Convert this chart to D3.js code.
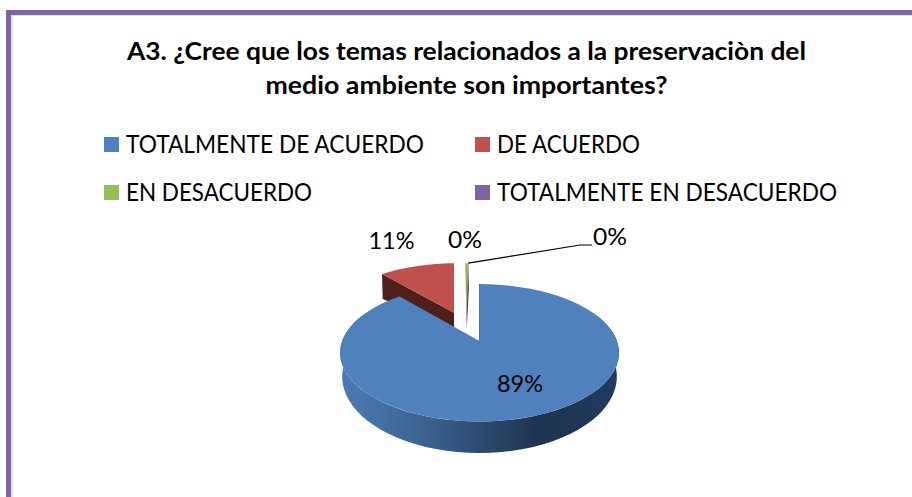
<!DOCTYPE html>
<html><head><meta charset="utf-8">
<script src="https://cdn.jsdelivr.net/npm/d3@7/dist/d3.min.js"></script>
<style>html,body{margin:0;padding:0;background:#fff;overflow:hidden}svg{display:block}text{font-family:Lato,"Open Sans",sans-serif;fill:#000}</style>
</head><body><svg id="c" width="912" height="497"></svg>
<script>
const titleLines = ["A3. ¿Cree que los temas relacionados a la preservaciòn del","medio ambiente son importantes?"];
const categories = ["TOTALMENTE DE ACUERDO","DE ACUERDO","EN DESACUERDO","TOTALMENTE EN DESACUERDO"];
const values = [88.6, 10.9, 0.45, 0.05];
const colors = ["#4f81bd","#c0504d","#9bbb59","#8064a2"];
const sideColors = ["#1f3552","#4f1f1c","#4f6122","#3f3151"];

(function(){
const svg = d3.select("#c");
// frame
svg.append("path").attr("d","M12 497V15H912").attr("fill","none").attr("stroke","#ccc1da").attr("stroke-width",1);
svg.append("path").attr("d","M8.5 497V12.5H912").attr("fill","none").attr("stroke","#8064a2").attr("stroke-width",5);
// title
const title = svg.append("g");
titleLines.forEach((t,i)=>title.append("text").attr("x",466.5).attr("y",60+i*34).attr("text-anchor","middle")
  .attr("font-size",24.5).attr("font-weight",700).attr("textLength",i?402:679).attr("lengthAdjust","spacingAndGlyphs").text(t));
// legend
const lgX = [104,475], lgY=[137,185], lgW=[298,143,186,340];
categories.forEach((c,i)=>{
  const x=lgX[i%2], y=lgY[i>>1];
  svg.append("rect").attr("x",x).attr("y",y).attr("width",15).attr("height",15).attr("fill",colors[i]);
  svg.append("text").attr("x",x+22).attr("y",y+15.5).attr("font-size",24.5).attr("textLength",lgW[i]).attr("lengthAdjust","spacingAndGlyphs").text(c);
});
// perspective pie
const cx=479.5, R=137.4, k=-0.171;
const yT=d3.scaleLinear().domain([0,1]).range([341,407.7]);
const yB=d3.scaleLinear().domain([0,1]).range([363.4,437.7]);
const proj=(u,v,ys,sc=1)=>{const w=1+k*v;return [cx+R*sc*u/w, ys(v/w)];};
const pie=d3.pie().sort(null).value(d=>d)(values);
const pt=(a,off)=>[Math.sin(a)+off[0],-Math.cos(a)+off[1]];
const offs=[[0,0],[-0.2,-0.457],[-0.1,-0.457],[-0.1,-0.457]];
const lineGen=d3.line();
const arcPts=(a0,a1,off,ys,sc)=>d3.range(0,61).map(i=>{const a=a0+(a1-a0)*i/60;const p=pt(a,off);return proj(p[0],p[1],ys,sc);});
const defs=svg.append("defs");
const g=defs.append("linearGradient").attr("id","bs").attr("gradientUnits","userSpaceOnUse").attr("x1",343).attr("x2",619).attr("y1",0).attr("y2",0);
[[0,"#4c7bb2"],[.3,"#3b628f"],[.7,"#1e3350"],[1,"#1f3b5e"]].forEach(s=>g.append("stop").attr("offset",s[0]).attr("stop-color",s[1]));
// exploded slices: cut face then top
[1,2,3].forEach(i=>{
  const d=pie[i], off=offs[i];
  const apex=proj(off[0],off[1],yT), sp=pt(d.startAngle,off), os=proj(sp[0],sp[1],yT);
  const quad=[apex,os,[os[0]+0.7,os[1]+25],[apex[0],apex[1]+16]];
  svg.append("path").attr("d",lineGen(quad)+"Z").attr("fill",sideColors[i]);
  svg.append("path").attr("d",lineGen([apex,...arcPts(d.startAngle,d.endAngle,off,yT,1)])+"Z").attr("fill",colors[i]);
});
// main slice side
const d0=pie[0];
const vis0=Math.PI*0.35, vis1=Math.min(d0.endAngle,Math.PI*1.65);
const topEdge=arcPts(vis0,vis1,offs[0],yT,1), botEdge=arcPts(vis0,vis1,offs[0],yB,0.985).reverse();
svg.append("path").attr("d",lineGen([...topEdge,...botEdge])+"Z").attr("fill","url(#bs)");
const apex0=proj(0,0,yT);
svg.append("path").attr("d",lineGen([apex0,...arcPts(d0.startAngle,d0.endAngle,offs[0],yT,1)])+"Z").attr("fill",colors[0]);
svg.append("line").attr("x1",apex0[0]).attr("y1",apex0[1]).attr("x2",apex0[0]).attr("y2",284).attr("stroke","#3a5f8c").attr("stroke-width",0.8);
// labels
const labelAll=[[520,392],[391.5,249],[465,248],[610,245]];
pie.forEach((d,i)=>svg.append("text").attr("x",labelAll[i][0]).attr("y",labelAll[i][1]).attr("text-anchor","middle").attr("font-size",24).attr("textLength",i<2?46:34).attr("lengthAdjust","spacingAndGlyphs").text(d3.format(".0%")(d.value/100)));
// leader
const gs=pt(pie[2].endAngle,offs[2]), gp=proj(gs[0],gs[1],yT);
svg.append("path").attr("d",lineGen([[gp[0],gp[1]],[580,245],[592,245]])).attr("fill","none").attr("stroke","#000").attr("stroke-width",1.2);
})();
</script></body></html>
